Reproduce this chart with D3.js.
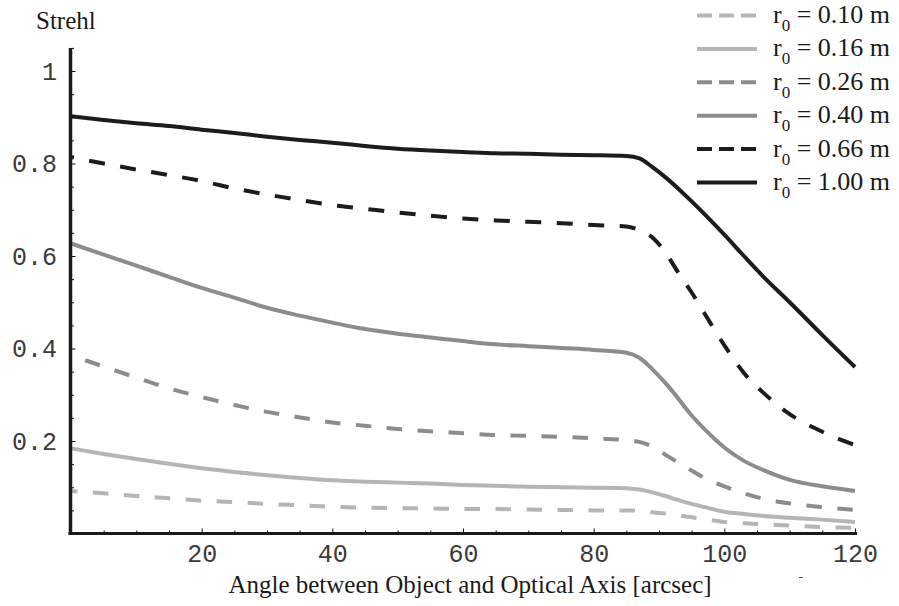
<!DOCTYPE html>
<html>
<head>
<meta charset="utf-8">
<script src="https://cdn.jsdelivr.net/npm/d3@7"></script>
<style>
  html, body { margin: 0; padding: 0; background: #fff; }
  svg { display: block; }
</style>
</head>
<body>
<svg id="chart" width="899" height="606"></svg>
<script>
// ---- data ----
const angles = [0,5,10,15,20,25,30,35,40,45,50,55,60,65,70,75,80,85,87,89,91,93,95,97,100,103,106,110,115,120];
const r010 = [0.092,0.087,0.081,0.076,0.071,0.068,0.064,0.061,0.058,0.056,0.055,0.054,0.053,0.053,0.052,0.051,0.050,0.050,0.049,0.046,0.043,0.039,0.035,0.031,0.025,0.022,0.020,0.017,0.014,0.012];
const r016 = [0.184,0.172,0.161,0.151,0.141,0.133,0.126,0.120,0.115,0.112,0.110,0.108,0.105,0.103,0.101,0.100,0.099,0.098,0.095,0.089,0.081,0.072,0.064,0.057,0.047,0.042,0.038,0.034,0.030,0.025];
const r026 = [0.385,0.361,0.337,0.314,0.295,0.278,0.263,0.251,0.240,0.233,0.226,0.221,0.217,0.213,0.211,0.209,0.206,0.202,0.198,0.188,0.170,0.153,0.136,0.120,0.102,0.087,0.075,0.065,0.057,0.051];
const r040 = [0.627,0.603,0.579,0.555,0.531,0.510,0.488,0.471,0.456,0.442,0.432,0.424,0.416,0.409,0.405,0.401,0.397,0.391,0.380,0.355,0.325,0.291,0.255,0.225,0.186,0.157,0.137,0.116,0.102,0.092];
const r066 = [0.814,0.800,0.787,0.775,0.762,0.746,0.733,0.721,0.710,0.702,0.694,0.687,0.681,0.677,0.674,0.671,0.667,0.664,0.656,0.640,0.607,0.563,0.521,0.475,0.407,0.347,0.304,0.258,0.220,0.191];
const r100 = [0.902,0.894,0.887,0.881,0.873,0.866,0.858,0.851,0.845,0.838,0.832,0.828,0.825,0.822,0.821,0.819,0.818,0.816,0.811,0.792,0.770,0.745,0.718,0.690,0.646,0.600,0.555,0.500,0.429,0.360];
const seriesLabels = ["0.10","0.16","0.26","0.40","0.66","1.00"];
const seriesValues = [r010, r016, r026, r040, r066, r100];
const xMajorTicks = [20,40,60,80,100,120];
const yMajorTicks = [0.2,0.4,0.6,0.8,1];
const yTickLabels = ["0.2","0.4","0.6","0.8","1"];
const xTitle = "Angle between Object and Optical Axis [arcsec]";
const yTitle = "Strehl";

// ---- styles ----
const styles = [
  {color:"#b5b5b5", dash:"15.5,15.5", offset:9,  legendDash:"15,7"},
  {color:"#b5b5b5", dash:null},
  {color:"#8c8c8c", dash:"15.5,15.5", offset:16, legendDash:"15,7"},
  {color:"#8c8c8c", dash:null},
  {color:"#1c1c1c", dash:"16,15.5", offset:13, legendDash:"15,7"},
  {color:"#1c1c1c", dash:null}
];
const monoFont = "'Liberation Mono', 'Courier New', monospace";
const serifFont = "'Liberation Serif', 'Times New Roman', serif";

const svg = d3.select("#chart");
const x = d3.scaleLinear().domain([0,120]).range([71,855]);
const y = d3.scaleLinear().domain([0,1]).range([533.5,71]);

// curves
const line = d3.line().x(d => x(d[0])).y(d => y(d[1])).curve(d3.curveMonotoneX);
seriesValues.forEach((vals, i) => {
  const st = styles[i];
  svg.append("path")
    .datum(angles.map((a, j) => [a, vals[j]]))
    .attr("d", line)
    .attr("fill", "none")
    .attr("stroke", st.color)
    .attr("stroke-width", 4)
    .attr("stroke-dasharray", st.dash)
    .attr("stroke-dashoffset", st.dash ? st.offset : null);
});

// y axis
const yMinor = d3.range(0.05, 1.051, 0.05).filter(v => !yMajorTicks.some(m => Math.abs(m - v) < 1e-6));
const yAxisMajor = d3.axisLeft(y).tickValues(yMajorTicks).tickSize(-4.5).tickPadding(14)
  .tickFormat((d, i) => yTickLabels[i]);
const gy = svg.append("g").attr("transform", "translate(71,0)").call(yAxisMajor);
gy.select(".domain").remove();
gy.selectAll("text").attr("font-family", monoFont)
  .attr("font-size", 25).attr("fill", "#3a3a3a");
const gyMinor = svg.append("g").attr("transform", "translate(71,0)")
  .call(d3.axisLeft(y).tickValues(yMinor).tickSize(-3).tickFormat(""));
gyMinor.select(".domain").remove();

// x axis
const xMinor = d3.range(5, 121, 5).filter(v => !xMajorTicks.includes(v));
const xAxisMajor = d3.axisBottom(x).tickValues(xMajorTicks).tickSize(-5).tickPadding(11)
  .tickFormat(d3.format("d"));
const gx = svg.append("g").attr("transform", `translate(0,${y(0)})`).call(xAxisMajor);
gx.select(".domain").remove();
gx.selectAll("text").attr("font-family", monoFont)
  .attr("font-size", 25).attr("fill", "#3a3a3a");
const gxMinor = svg.append("g").attr("transform", `translate(0,${y(0)})`)
  .call(d3.axisBottom(x).tickValues(xMinor).tickSize(-3).tickFormat(""));
gxMinor.select(".domain").remove();
svg.selectAll(".tick line").attr("stroke", "#111").attr("stroke-width", 1);

// axis lines
svg.append("line").attr("x1", 70.5).attr("x2", 70.5).attr("y1", y(1.05)).attr("y2", y(0) + 1.5)
  .attr("stroke", "#1a1a1a").attr("stroke-width", 3.5);
svg.append("line").attr("x1", 68.5).attr("x2", x(120) + 2).attr("y1", y(0)).attr("y2", y(0))
  .attr("stroke", "#1a1a1a").attr("stroke-width", 3);

// titles
svg.append("text").attr("x", 36).attr("y", 29).text(yTitle)
  .attr("font-family", serifFont).attr("font-size", 25).attr("fill", "#1a1a1a");
svg.append("text").attr("x", 470).attr("y", 593).attr("text-anchor", "middle").text(xTitle)
  .attr("font-family", serifFont).attr("font-size", 25).attr("fill", "#1a1a1a");
// small blue mark
svg.append("line").attr("x1", 799).attr("x2", 803).attr("y1", 577.5).attr("y2", 577.5)
  .attr("stroke", "#4050b0").attr("stroke-width", 1);

// legend
const leg = svg.append("g");
seriesLabels.forEach((lab, i) => {
  const st = styles[i];
  const base = 23 + i * 33.4;
  leg.append("line").attr("x1", 697).attr("x2", 757).attr("y1", base - 7.5).attr("y2", base - 7.5)
    .attr("stroke", st.color).attr("stroke-width", 4)
    .attr("stroke-dasharray", st.dash ? st.legendDash : null);
  const t = leg.append("text").attr("x", 773).attr("y", base)
    .attr("font-family", serifFont).attr("font-size", 26).attr("fill", "#1a1a1a");
  t.append("tspan").text("r");
  t.append("tspan").text("0").attr("font-size", 17).attr("dy", 8);
  t.append("tspan").text(" = " + lab + " m").attr("dy", -8);
});
</script>
</body>
</html>
